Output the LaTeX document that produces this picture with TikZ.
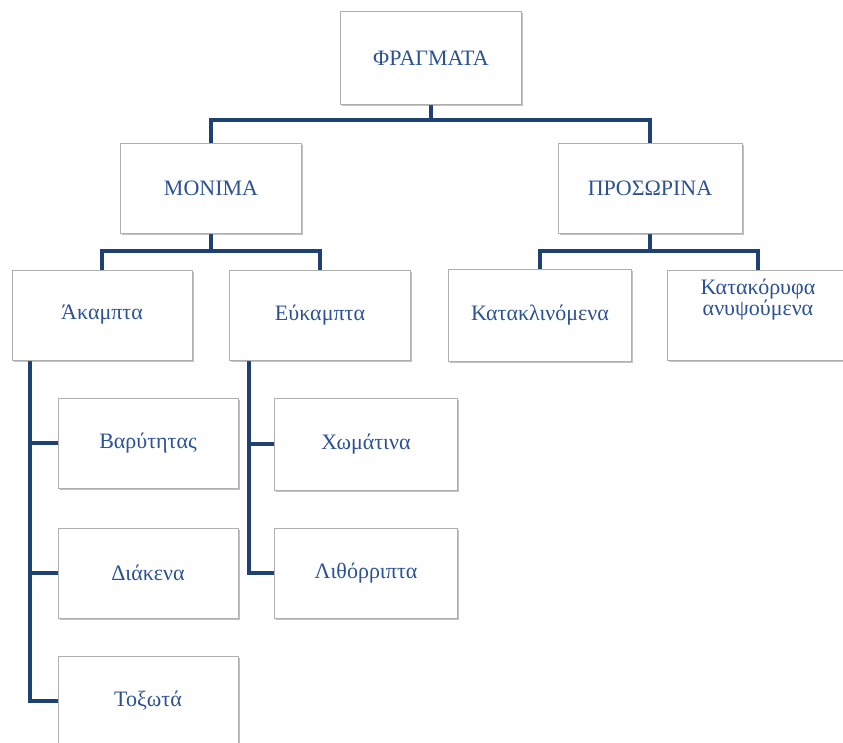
\documentclass[tikz,border=0pt]{standalone}
\usepackage{fontspec}
\setmainfont{Liberation Serif}
\usetikzlibrary{shadows,backgrounds,calc}
\definecolor{txt}{RGB}{44,82,148}
\definecolor{ln}{RGB}{30,65,115}
\definecolor{bd}{RGB}{175,175,175}
\tikzset{
  box/.style={draw=bd, line width=0.8pt, fill=white, minimum width=181pt, minimum height=90pt,
    inner sep=0pt, align=center, font=\fontsize{22}{22}\selectfont, text=txt,
    drop shadow={shadow xshift=1.8pt, shadow yshift=-2pt, opacity=0.4, fill=black!60}},
  conn/.style={draw=ln, line width=3.2pt}
}
\begin{document}
\begin{tikzpicture}[x=1pt,y=1pt]
\useasboundingbox (0,0) rectangle (843,-743);
\node[box, minimum height=93pt] (fr) at (431,-58) {ΦΡΑΓΜΑΤΑ};
\node[box] (mon) at (211,-188) {ΜΟΝΙΜΑ};
\node[box, minimum width=184pt] (pro) at (650,-188) {ΠΡΟΣΩΡΙΝΑ};
\node[box, minimum width=180pt] (ak) at (102,-315) {Άκαμπτα};
\node[box] (eu) at (320,-315) {Εύκαμπτα};
\node[box, minimum width=183pt, minimum height=92pt] (kat) at (540,-315) {Κατακλινόμενα};
\node[box, minimum width=182pt] (kor) at (758,-315) {};
\node[text=txt, align=center, font=\fontsize{22}{21}\selectfont, anchor=north, inner sep=0pt] (kort) at ($(kor.north)+(0,-9)$) {Κατακόρυφα\\ανυψούμενα};
\node[box, minimum width=180pt] (bar) at (148,-443) {Βαρύτητας};
\node[box, minimum width=180pt] (dia) at (148,-573) {Διάκενα};
\node[box, minimum width=180pt] (tox) at (148,-701) {Τοξωτά};
\node[box, minimum width=183pt, minimum height=92pt] (xom) at (366,-444) {Χωμάτινα};
\node[box, minimum width=183pt] (lit) at (366,-573) {Λιθόρριπτα};
\coordinate (b1) at (431,-120);
\coordinate (b2) at (211,-251);
\coordinate (b3) at (650,-251);
\coordinate (s1) at (30,-360);
\coordinate (s2) at (249,-360);
\begin{pgfonlayer}{background}
\draw[conn] (fr.south) -- (b1);
\draw[conn] (b1) -| (mon.north);
\draw[conn] (b1) -| (pro.north);
\draw[conn] (mon.south) -- (b2);
\draw[conn] (b2) -| (ak.north);
\draw[conn] (b2) -| (eu.north);
\draw[conn] (pro.south) -- (b3);
\draw[conn] (b3) -| (kat.north);
\draw[conn] (b3) -| (kor.north);
\draw[conn] (s1) |- (bar.west);
\draw[conn] (s1) |- (dia.west);
\draw[conn] (s1) |- (tox.west);
\draw[conn] (s2) |- (xom.west);
\draw[conn] (s2) |- (lit.west);
\end{pgfonlayer}
\end{tikzpicture}
\end{document}
